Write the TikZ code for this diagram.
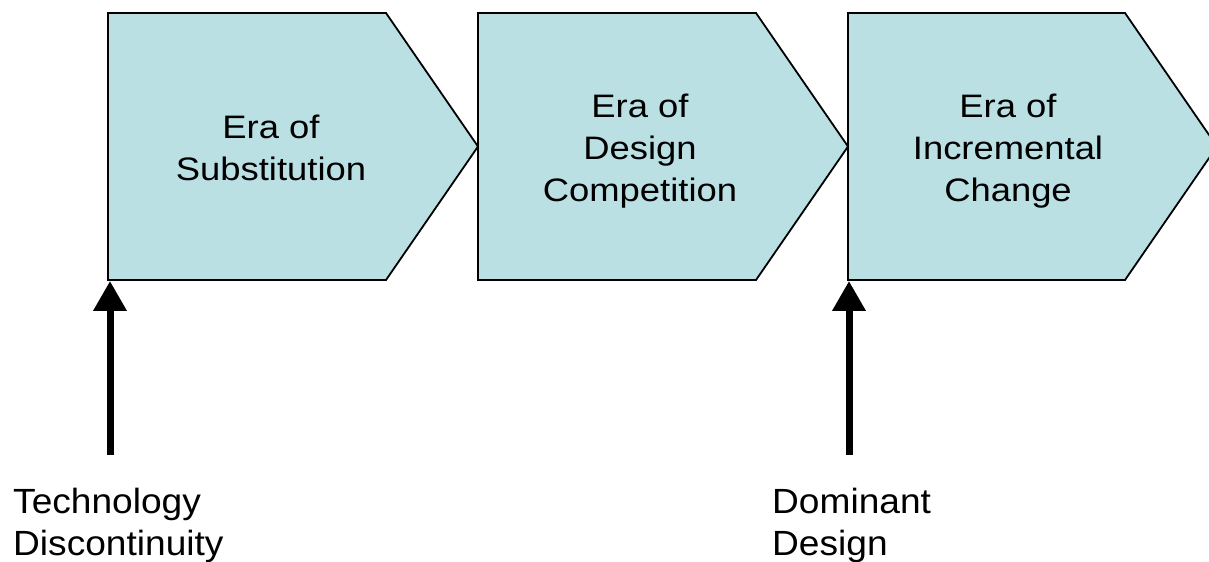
\documentclass[tikz,border=0pt]{standalone}
\usepackage{fontspec}
\setmainfont{Liberation Sans}
\newfontfamily\erafont{Liberation Sans}[FakeStretch=1.12]
\newfontfamily\labfont{Liberation Sans}[FakeStretch=1.06]
\usetikzlibrary{arrows.meta}
\definecolor{erafill}{RGB}{186,224,228}
\tikzset{
  eraarrow/.style={fill=erafill, draw=black, line width=1.8bp, line join=miter},
  eratext/.style={inner sep=0pt, align=center, anchor=base, font=\erafont\fontsize{32.5bp}{42.3bp}\selectfont},
  labtext/.style={inner sep=0pt, align=left, anchor=base west, font=\labfont\fontsize{35bp}{42bp}\selectfont},
  markarrow/.style={line width=7bp, -{Triangle[width=32bp,length=30bp]}}
}
\begin{document}
\begin{tikzpicture}[x=1bp,y=-1bp]
\useasboundingbox (0,0) rectangle (1209,562);
% era shapes
\draw[eraarrow] (108,13) coordinate (s1tl) -- (386,13) -- (478,146.5) coordinate (s1tip) -- (386,280) -- (108,280) coordinate (s1bl) -- cycle;
\draw[eraarrow] (478,13) -- (756,13) -- (848,146.5) coordinate (s2tip) -- (756,280) -- (478,280) -- cycle;
\draw[eraarrow] (848,13) -- (1125,13) -- (1217,146.5) -- (1125,280) -- (848,280) coordinate (s3bl) -- cycle;
% texts (anchor = baseline of last line)
\node[eratext] (t1) at (271,181) {Era of\\Substitution};
\node[eratext] (t2) at (640,201.7) {Era of\\Design\\Competition};
\node[eratext] (t3) at (1008,201.7) {Era of\\Incremental\\Change};
% markers
\coordinate (a1) at (110,455);
\coordinate (a1t) at (110,281);
\coordinate (a2) at (849,455);
\coordinate (a2t) at (849,281);
\draw[markarrow] (a1) -- (a1t);
\draw[markarrow] (a2) -- (a2t);
\node[labtext] (l1) at (13,555) {Technology\\Discontinuity};
\node[labtext] (l2) at (772,555) {Dominant\\Design};
\end{tikzpicture}
\end{document}
